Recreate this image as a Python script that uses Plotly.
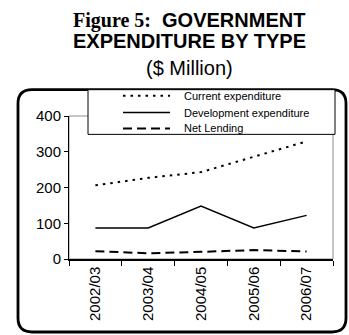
import plotly.graph_objects as go

# Fiscal years and expenditure series ($ million)
years = ["2002/03", "2003/04", "2004/05", "2005/06", "2006/07"]
current_exp = [206, 227, 243, 287, 329]
development_exp = [87, 87, 148, 87, 122]
net_lending = [22, 16, 20, 25, 21]

series_names = ["Current expenditure", "Development expenditure", "Net Lending"]
y_ticks = [0, 100, 200, 300, 400]

W, H = 349, 335
PL, PR, PT, PB = 69, 333, 115.5, 259.5  # plot area in pixels


def px_x(px):
    return (px - PL) / (PR - PL)


def px_y(py):
    return (PB - py) / (PB - PT)


line_styles = [
    dict(color="black", width=2, dash="2.5px,5px"),
    dict(color="black", width=1.5),
    dict(color="black", width=2, dash="9px,5px"),
]

fig = go.Figure()
for name, values, style in zip(series_names, [current_exp, development_exp, net_lending], line_styles):
    fig.add_trace(go.Scatter(x=years, y=values, name=name, mode="lines",
                             line=style, showlegend=False))

# Rounded outer frame
fx0, fx1, fy0, fy1, r = 18, 346, 89, 333, 14
L, R, T, B = px_x(fx0), px_x(fx1), px_y(fy0), px_y(fy1)
rx, ry = r / (PR - PL), r / (PB - PT)
frame_path = (
    f"M {L+rx},{T} L {R-rx},{T} Q {R},{T} {R},{T-ry} "
    f"L {R},{B+ry} Q {R},{B} {R-rx},{B} "
    f"L {L+rx},{B} Q {L},{B} {L},{B+ry} "
    f"L {L},{T-ry} Q {L},{T} {L+rx},{T} Z"
)

shapes = [
    dict(type="rect", xref="paper", yref="paper", x0=0, x1=1, y0=0, y1=1,
         line=dict(color="#8c8c8c", width=1), layer="below"),
    dict(type="path", xref="paper", yref="paper", path=frame_path,
         line=dict(color="black", width=2.8)),
    dict(type="rect", xref="paper", yref="paper",
         x0=px_x(88), x1=px_x(335), y0=px_y(134), y1=px_y(89),
         line=dict(color="black", width=1), fillcolor="white"),
]

title_font = "Liberation Sans, Arial, sans-serif"
annotations = [
    dict(text='<b><span style="font-family:Liberation Serif, Times New Roman, serif">Figure 5:</span>'
              '&nbsp;&nbsp;GOVERNMENT</b>',
         xref="paper", yref="paper", x=px_x(189), y=px_y(19), showarrow=False,
         xanchor="center", yanchor="middle", font=dict(size=20, family=title_font, color="black")),
    dict(text="<b>EXPENDITURE BY TYPE</b>",
         xref="paper", yref="paper", x=px_x(189), y=px_y(40), showarrow=False,
         xanchor="center", yanchor="middle", font=dict(size=20, family=title_font, color="black")),
    dict(text="($ Million)",
         xref="paper", yref="paper", x=px_x(189), y=px_y(67), showarrow=False,
         xanchor="center", yanchor="middle", font=dict(size=20, family=title_font, color="black")),
]

# Legend key: sample line plus label for each series
legend_rows = [95, 112, 128]
for name, style, ry_px in zip(series_names, line_styles, legend_rows):
    shapes.append(dict(type="line", xref="paper", yref="paper",
                       x0=px_x(123), x1=px_x(170), y0=px_y(ry_px), y1=px_y(ry_px),
                       line=style))
    annotations.append(dict(text=name, xref="paper", yref="paper",
                            x=px_x(182), y=px_y(ry_px), showarrow=False,
                            xanchor="left", yanchor="middle",
                            font=dict(size=11, family=title_font, color="black")))

fig.update_layout(
    width=W, height=H,
    margin=dict(l=PL, r=W - PR, t=PT, b=H - PB),
    paper_bgcolor="white", plot_bgcolor="white",
    font=dict(family="Liberation Sans, Arial, sans-serif", color="black"),
    showlegend=False,
    shapes=shapes,
    annotations=annotations,
    xaxis=dict(type="category", range=[-0.5, len(years) - 0.5], tickson="boundaries",
               ticks="outside", ticklen=5, tickcolor="black", tickwidth=1,
               showline=True, linecolor="black", linewidth=1.5,
               tickangle=-90, tickfont=dict(size=15), showgrid=False, zeroline=False,
               fixedrange=True),
    yaxis=dict(range=[0, 400], tickvals=y_ticks, ticks="outside", ticklen=4,
               tickcolor="black", tickwidth=1, showline=True, linecolor="black", linewidth=1,
               tickfont=dict(size=15), showgrid=False, zeroline=False, fixedrange=True),
)

fig.write_html("out.html", config=dict(displayModeBar=False))
